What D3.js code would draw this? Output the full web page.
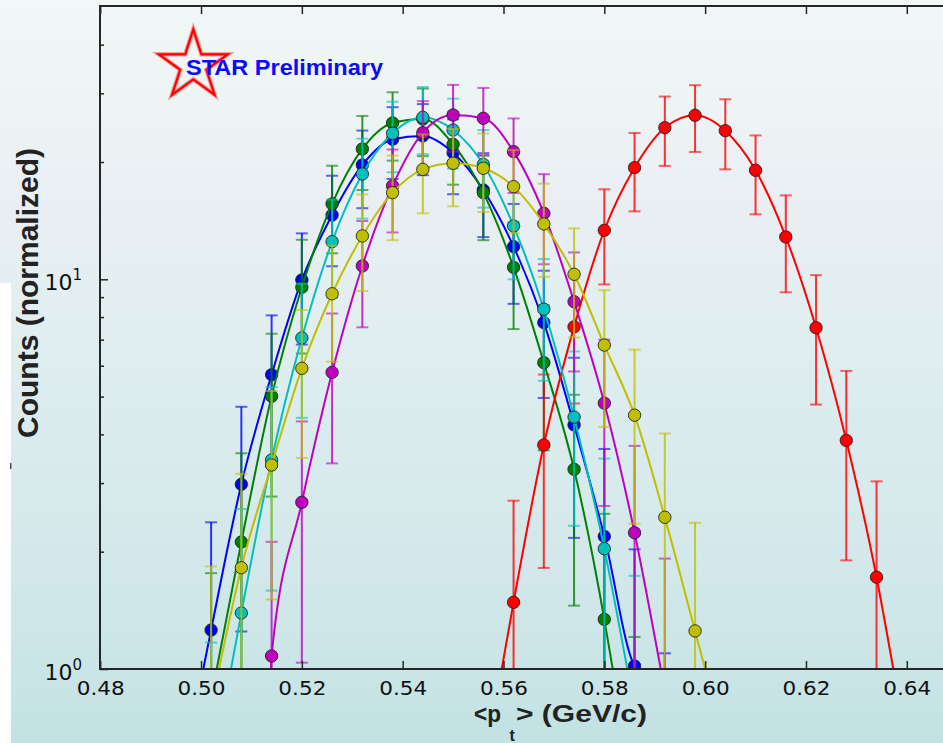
<!DOCTYPE html>
<html>
<head>
<meta charset="utf-8">
<script src="https://cdn.jsdelivr.net/npm/d3@7"></script>
<style>
  html, body { margin: 0; padding: 0; background: #fff; }
  svg { display: block; }
</style>
</head>
<body>
<svg id="chart" width="943" height="743"></svg>
<script>
// Bin centres of the event-wise mean transverse momentum (GeV/c)
const meanPt = [0.502, 0.508, 0.514, 0.520, 0.526, 0.532, 0.538, 0.544, 0.550, 0.556,
                0.562, 0.568, 0.574, 0.580, 0.586, 0.592, 0.598, 0.604, 0.610, 0.616,
                0.622, 0.628, 0.634];

// Normalized counts per bin, one array per distribution (null = empty bin)
const blueCounts    = [1.259, 2.978, 5.69, 9.96, 14.62, 19.65, 22.87, 23.33, 21.13, 16.95, 12.13, 7.74, 4.23, 2.19, 1.018, 0.437, null, null, null, null, null, null, null];
const greenCounts   = [0.842, 2.118, 5.01, 9.54, 15.61, 21.60, 25.18, 25.78, 22.20, 16.69, 10.73, 6.11, 3.254, 1.341, 0.498, null, null, null, null, null, null, null, null];
const redCounts     = [null, null, null, null, null, null, null, null, null, null, 1.483, 3.757, 7.55, 13.36, 19.34, 24.49, 26.35, 24.06, 19.04, 12.84, 7.51, 3.86, 1.72];
const cyanCounts    = [0.479, 1.392, 3.439, 7.07, 12.49, 18.63, 23.69, 26.04, 24.16, 19.71, 13.70, 8.38, 4.43, 2.036, 0.824, null, null, null, null, null, null, null, null];
const magentaCounts = [null, null, 1.080, 2.678, 5.77, 10.82, 17.36, 23.78, 26.40, 25.89, 21.26, 14.77, 8.76, 4.81, 2.237, 0.95, null, null, null, null, null, null, null];
const yellowCounts  = [0.893, 1.819, 3.338, 5.91, 9.18, 12.92, 16.69, 19.15, 19.85, 19.27, 17.29, 13.87, 10.30, 6.78, 4.48, 2.451, 1.252, null, null, null, null, null, null];

// Statistical uncertainties per bin
const blueErr    = [1.12, 1.73, 2.39, 3.16, 3.82, 4.43, 4.78, 4.83, 4.60, 4.12, 3.48, 2.78, 2.06, 1.48, 1.01, 0.66, null, null, null, null, null, null, null];
const greenErr   = [0.92, 1.46, 2.24, 3.09, 3.95, 4.65, 5.02, 5.08, 4.71, 4.09, 3.28, 2.47, 1.80, 1.16, 0.71, null, null, null, null, null, null, null, null];
const redErr     = [null, null, null, null, null, null, null, null, null, null, 1.22, 1.94, 2.75, 3.66, 4.40, 4.95, 5.13, 4.91, 4.36, 3.58, 2.74, 1.96, 1.31];
const cyanErr    = [0.69, 1.18, 1.85, 2.66, 3.53, 4.32, 4.87, 5.10, 4.92, 4.44, 3.70, 2.89, 2.10, 1.43, 0.91, null, null, null, null, null, null, null, null];
const magentaErr = [null, null, 1.04, 1.64, 2.40, 3.29, 4.17, 4.88, 5.14, 5.09, 4.61, 3.84, 2.96, 2.19, 1.50, 0.97, null, null, null, null, null, null, null];
const yellowErr  = [0.94, 1.35, 1.83, 2.43, 3.03, 3.59, 4.09, 4.38, 4.46, 4.39, 4.16, 3.72, 3.21, 2.60, 2.12, 1.57, 1.12, null, null, null, null, null, null];

// <pt> where each smooth curve reaches the bottom of the frame (left, right)
const curveFrom = [0.50045, 0.50311, 0.55965, 0.50595, 0.51388, 0.50357];
const curveTo   = [0.58640, 0.58167, 0.63733, 0.58456, 0.59119, 0.60000];

const seriesColors = ["#0000ff", "#008000", "#ff0000", "#00bfbf", "#bf00bf", "#bfbf00"];

const xTicks = [0.48, 0.50, 0.52, 0.54, 0.56, 0.58, 0.60, 0.62, 0.64];
const yMajor = [1, 10];
const yMajorExp = ["0", "1"];
const yMinor = [2, 3, 4, 5, 6, 7, 8, 9, 20, 30, 40];

const series = [
  { counts: blueCounts,    err: blueErr },
  { counts: greenCounts,   err: greenErr },
  { counts: redCounts,     err: redErr },
  { counts: cyanCounts,    err: cyanErr },
  { counts: magentaCounts, err: magentaErr },
  { counts: yellowCounts,  err: yellowErr }
].map((s, i) => ({ ...s, color: seriesColors[i], from: curveFrom[i], to: curveTo[i] }));

const W = 943, H = 743;
const svg = d3.select("#chart");

const x = d3.scaleLinear().domain([0.48, 0.65]).range([100.2, 957.2]);
const y = d3.scaleLog().domain([1, 50]).range([669, 6.9]);

const defs = svg.append("defs");
const bg = defs.append("linearGradient").attr("id", "bg")
  .attr("x1", 0).attr("y1", 0).attr("x2", 0).attr("y2", 1);
[[0, "#f2f7f7"], [0.15, "#edf4f4"], [0.28, "#e9eef3"], [0.36, "#e5eff1"],
 [0.55, "#dcecee"], [0.75, "#d3e8ea"], [0.9, "#cae5e7"], [1, "#c2e1e3"]]
  .forEach(([o, c]) => bg.append("stop").attr("offset", o).attr("stop-color", c));

defs.append("clipPath").attr("id", "plotClip")
  .append("rect").attr("x", 100).attr("y", 6).attr("width", 860).attr("height", 663);

const soft = defs.append("filter").attr("id", "soft")
  .attr("x", "-20%").attr("y", "-20%").attr("width", "140%").attr("height", "140%");
soft.append("feGaussianBlur").attr("stdDeviation", 0.7);

// page background
svg.append("rect").attr("width", W).attr("height", H).attr("fill", "url(#bg)");
svg.append("rect").attr("x", 0).attr("y", 283).attr("width", 11).attr("height", H - 283).attr("fill", "#ffffff");
svg.append("rect").attr("x", 10).attr("y", 463).attr("width", 1.4).attr("height", 6).attr("fill", "#444");

// data layer
const plot = svg.append("g").attr("clip-path", "url(#plotClip)");

const curve = d3.line()
  .x(d => x(d[0]))
  .y(d => y(d[1]))
  .curve(d3.curveMonotoneX);

series.forEach(s => {
  const g = plot.append("g");
  const pts = meanPt.map((p, i) => ({ p, v: s.counts[i], e: s.err[i] })).filter(d => d.v != null);

  // error bars
  pts.forEach(d => {
    const top = d.v + d.e;
    const lowRaw = d.v - d.e;
    const low = lowRaw > 0 ? lowRaw : 1e-3;
    const cx = x(d.p);
    g.append("line")
      .attr("x1", cx).attr("x2", cx)
      .attr("y1", y(top)).attr("y2", y(low))
      .attr("stroke", s.color).attr("stroke-width", 2).attr("stroke-opacity", 0.8);
    g.append("line")
      .attr("x1", cx - 6).attr("x2", cx + 6)
      .attr("y1", y(top)).attr("y2", y(top))
      .attr("stroke", s.color).attr("stroke-width", 2).attr("stroke-opacity", 0.6);
    if (lowRaw > 0) {
      g.append("line")
        .attr("x1", cx - 6).attr("x2", cx + 6)
        .attr("y1", y(low)).attr("y2", y(low))
        .attr("stroke", s.color).attr("stroke-width", 2).attr("stroke-opacity", 0.6);
    }
  });

  // smooth curve through the visible points
  const linePts = [[s.from, 1]]
    .concat(pts.filter(d => d.v >= 1).map(d => [d.p, d.v]))
    .concat([[s.to, 1]]);
  g.append("path")
    .attr("d", curve(linePts))
    .attr("fill", "none")
    .attr("stroke", s.color)
    .attr("stroke-width", 2);

  // markers
  g.selectAll("circle").data(pts).join("circle")
    .attr("cx", d => x(d.p))
    .attr("cy", d => y(d.v))
    .attr("r", 6.2)
    .attr("fill", s.color)
    .attr("stroke", "#1e1e1e")
    .attr("stroke-opacity", 0.85)
    .attr("stroke-width", 1);
});

// axes
const axisColor = "#262626";
const xBottom = svg.append("g").attr("transform", "translate(0,669)")
  .call(d3.axisBottom(x).tickValues(xTicks).tickSizeInner(-8).tickSizeOuter(0)
        .tickPadding(12).tickFormat(d3.format(".2f")));
const xTop = svg.append("g").attr("transform", "translate(0,6)")
  .call(d3.axisTop(x).tickValues(xTicks).tickSizeInner(-8).tickSizeOuter(0).tickFormat(""));
const yMaj = svg.append("g").attr("transform", "translate(100,0)")
  .call(d3.axisLeft(y).tickValues(yMajor).tickSizeInner(-8).tickSizeOuter(0).tickFormat(""));
const yMin = svg.append("g").attr("transform", "translate(100,0)")
  .call(d3.axisLeft(y).tickValues(yMinor).tickSizeInner(-4).tickSizeOuter(0).tickFormat(""));

[xBottom, xTop, yMaj, yMin].forEach(a => {
  a.select(".domain").remove();
  a.selectAll(".tick line").attr("stroke", axisColor).attr("stroke-width", 1.5);
});

xBottom.selectAll(".tick text")
  .attr("fill", "#111")
  .attr("font-family", "'DejaVu Sans', sans-serif")
  .attr("font-size", 19.5)
  .attr("textLength", 48)
  .attr("lengthAdjust", "spacingAndGlyphs");

// y tick labels as powers of ten
yMajor.forEach((v, i) => {
  const t = svg.append("text")
    .attr("x", 82).attr("y", y(v) + 10.5)
    .attr("text-anchor", "end")
    .attr("fill", "#111")
    .attr("font-family", "'DejaVu Sans', sans-serif")
    .attr("font-size", 22);
  t.append("tspan").text("10");
  t.append("tspan").attr("dy", -10).attr("font-size", 15).text(yMajorExp[i]);
});

// frame
svg.append("path")
  .attr("d", `M${W},6H100V669H${W}`)
  .attr("fill", "none")
  .attr("stroke", axisColor)
  .attr("stroke-width", 2);

// axis titles
const titleFont = "'Liberation Sans', Arial, Helvetica, sans-serif";
svg.append("text")
  .attr("transform", "translate(37.5,293) rotate(-90)")
  .attr("text-anchor", "middle")
  .attr("font-family", titleFont).attr("font-weight", "bold")
  .attr("font-size", 30).attr("fill", "#222")
  .text("Counts (normalized)");

svg.append("text")
  .attr("x", 474).attr("y", 721.5)
  .attr("font-family", titleFont).attr("font-weight", "bold")
  .attr("font-size", 23).attr("fill", "#222")
  .attr("textLength", 27).attr("lengthAdjust", "spacingAndGlyphs")
  .text("<p");
svg.append("text")
  .attr("x", 509.5).attr("y", 741)
  .attr("font-family", titleFont).attr("font-weight", "bold")
  .attr("font-size", 16).attr("fill", "#222")
  .text("t");
svg.append("text")
  .attr("x", 516).attr("y", 721.5)
  .attr("font-family", titleFont).attr("font-weight", "bold")
  .attr("font-size", 23).attr("fill", "#222")
  .attr("textLength", 131).attr("lengthAdjust", "spacingAndGlyphs")
  .text("> (GeV/c)");

// STAR Preliminary badge
const cxS = 193.3, cyS = 65.5, Ro = 36.2, Ri = 13.8;
const starPts = d3.range(10).map(k => {
  const a = -Math.PI / 2 + k * Math.PI / 5;
  const r = k % 2 === 0 ? Ro : Ri;
  return [cxS + r * Math.cos(a), cyS + r * Math.sin(a)];
});
const starPath = "M" + starPts.map(p => p.join(",")).join("L") + "Z";
svg.append("path").attr("d", starPath)
  .attr("fill", "none").attr("stroke", "#ff2a2a").attr("stroke-width", 4.5)
  .attr("stroke-opacity", 0.45).attr("stroke-linejoin", "miter").attr("filter", "url(#soft)");
svg.append("path").attr("d", starPath)
  .attr("fill", "none").attr("stroke", "#ff0000").attr("stroke-width", 2.2)
  .attr("stroke-linejoin", "miter");

svg.append("text")
  .attr("x", 186).attr("y", 75)
  .attr("font-family", titleFont).attr("font-weight", "bold")
  .attr("font-size", 22).attr("fill", "#0a0aff")
  .attr("textLength", 197).attr("lengthAdjust", "spacingAndGlyphs")
  .text("STAR Preliminary");
</script>
</body>
</html>
